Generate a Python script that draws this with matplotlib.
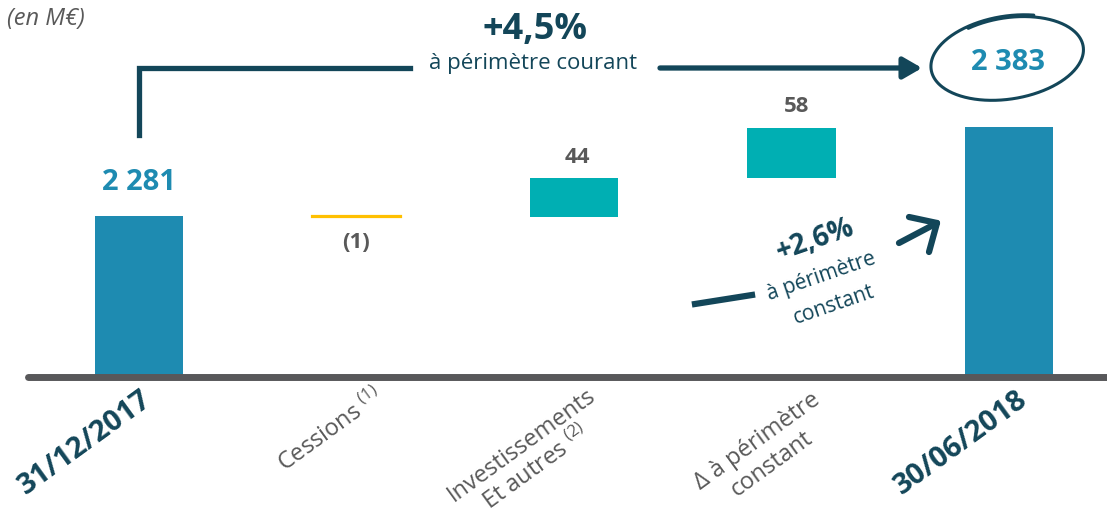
import numpy as np
import matplotlib
matplotlib.use("Agg")
import matplotlib.pyplot as plt
from matplotlib.lines import Line2D
from matplotlib.patches import FancyArrowPatch

plt.rcParams["font.family"] = ["Open Sans", "DejaVu Sans"]
plt.rcParams["mathtext.default"] = "regular"

# -----------------------------
# Data (M€)
# -----------------------------
categories = ["31/12/2017", "Cessions $^{(1)}$", "Investissements\nEt autres $^{(2)}$",
              "Δ à périmètre\nconstant", "30/06/2018"]
start_value = 2281
changes = [-1, 44, 58]
end_value = 2383
value_labels = ["2 281", "(1)", "44", "58", "2 383"]

# -----------------------------
# Style
# -----------------------------
W, H = 1107, 519
BLUE = "#1e8bb1"
TEAL = "#00afb3"
YELLOW = "#ffc000"
NAVY = "#134659"
GRAY = "#595959"
AXIS_GRAY = "#58585a"
BASE = 2097.6

fig = plt.figure(figsize=(W / 100, H / 100), dpi=100)
ax = fig.add_axes([0, 0, 1, 1])
ax.set_xlim(-0.639, 4.4506)
ax.set_ylim(1933.7, 2528.5)
ax.axis("off")


def px(x, y):
    # image pixel (y down) -> figure fraction
    return x / W, 1 - y / H


# bars
x = np.arange(len(categories))
width = 0.405
ax.bar(x[0], start_value - BASE, bottom=BASE, width=width, color=BLUE, zorder=2)
ax.bar(x[-1], end_value - BASE, bottom=BASE, width=width, color=BLUE, zorder=2)

running = start_value
tops = [start_value]
for i, ch in enumerate(changes, start=1):
    if ch < 0:
        ax.bar(x[i], ch, bottom=running, width=width, color=YELLOW,
               edgecolor=YELLOW, linewidth=1.6, zorder=2)
    else:
        ax.bar(x[i], ch, bottom=running, width=width, color=TEAL, zorder=2)
    running += ch
    tops.append(max(running, running - ch))
tops.append(end_value)

# baseline
ax.axhline(BASE - 1, xmin=28 / W, xmax=1, color=AXIS_GRAY, lw=5, zorder=3,
           solid_capstyle="round")

# value labels
ax.annotate(value_labels[0], (x[0], tops[0]), xytext=(0, 33), textcoords="offset pixels",
            ha="center", va="center", fontsize=21, fontweight="bold", color=BLUE)
ax.annotate(value_labels[1], (x[1], tops[1]), xytext=(0, -27), textcoords="offset pixels",
            ha="center", va="center", fontsize=16, fontweight="bold", color=GRAY)
ax.annotate(value_labels[2], (x[2], tops[2]), xytext=(3, 21), textcoords="offset pixels",
            ha="center", va="center", fontsize=16, fontweight="bold", color=GRAY)
ax.annotate(value_labels[3], (x[3], tops[3]), xytext=(5, 21), textcoords="offset pixels",
            ha="center", va="center", fontsize=16, fontweight="bold", color=GRAY)
fig.text(*px(1008, 62), value_labels[4], ha="center", va="center",
         fontsize=21, fontweight="bold", color=BLUE)

# category labels: (dx, dy) offset in pixels of the first line's centre
label_styles = [
    (-54, -67, 21, "bold", NAVY),
    (-26, -55, 17, "normal", GRAY),
    (-52, -69, 17, "normal", GRAY),
    (-34, -65, 17, "normal", GRAY),
    (-48, -67, 21, "bold", NAVY),
]
ROT = 36
line_step = (14, -23)
for xi, lab, (dx, dy, fs, fw, col) in zip(x, categories, label_styles):
    for k, line in enumerate(lab.split("\n")):
        ax.annotate(line, (xi, BASE),
                    xytext=(dx + k * line_step[0], dy + k * line_step[1]),
                    textcoords="offset pixels", ha="center", va="center",
                    rotation=ROT, rotation_mode="anchor",
                    fontsize=fs, fontweight=fw, color=col)

# "(en M€)"
fig.text(*px(7, 19), "(en M€)", ha="left", va="center", fontsize=17,
         style="italic", color=GRAY)

# +4,5% bracket arrow
fig.add_artist(Line2D([139 / W, 139 / W, 410 / W], [1 - 135 / H, 1 - 68 / H, 1 - 68 / H],
                      transform=fig.transFigure, color=NAVY, lw=3.8,
                      solid_joinstyle="miter"))
fig.add_artist(FancyArrowPatch(px(660, 68), px(922, 68), transform=fig.transFigure,
                               arrowstyle="-|>,head_length=4.5,head_width=2.6",
                               color=NAVY, lw=3.8, mutation_scale=2.5,
                               shrinkA=0, shrinkB=0))
fig.text(*px(535, 30), "+4,5%", ha="center", va="center", fontsize=26,
         fontweight="bold", color=NAVY)
fig.text(*px(533, 64), "à périmètre courant", ha="center", va="center",
         fontsize=16, color=NAVY)

# ellipse around 2 383
a, b, rot = 75, 40, np.deg2rad(9)
cx, cy = 1008, H - 58
th = np.linspace(1.15, 1.15 + 2 * np.pi + 0.9, 300)
grow = 1 + 0.05 * (1 - (th - th[0]) / (th[-1] - th[0]))
ex = cx + grow * (a * np.cos(th) * np.cos(rot) - b * np.sin(th) * np.sin(rot))
ey = cy + grow * (a * np.cos(th) * np.sin(rot) + b * np.sin(th) * np.cos(rot))
fig.add_artist(Line2D(ex / W, ey / H, transform=fig.transFigure, color=NAVY,
                      lw=2.2, solid_capstyle="round"))

# +2,6% à périmètre constant
ang = 19
fig.text(*px(815, 240), "+2,6%", ha="center", va="center", rotation=ang,
         rotation_mode="anchor", fontsize=20, fontweight="bold", color=NAVY)
fig.text(*px(821, 277), "à périmètre", ha="center", va="center", rotation=ang,
         rotation_mode="anchor", fontsize=15, color=NAVY)
fig.text(*px(834, 305), "constant", ha="center", va="center", rotation=ang,
         rotation_mode="anchor", fontsize=15, color=NAVY)
fig.add_artist(Line2D([695 / W, 752 / W], [1 - 304 / H, 1 - 295 / H],
                      transform=fig.transFigure, color=NAVY, lw=4.5))
fig.add_artist(Line2D([899 / W, 937 / W], [1 - 243 / H, 1 - 223 / H],
                      transform=fig.transFigure, color=NAVY, lw=4.5, solid_capstyle="round"))
fig.add_artist(Line2D([909 / W, 937 / W, 929 / W], [1 - 217 / H, 1 - 223 / H, 1 - 252 / H],
                      transform=fig.transFigure, color=NAVY, lw=4.5,
                      solid_capstyle="round", solid_joinstyle="round"))

fig.savefig("out.png", dpi=100)
